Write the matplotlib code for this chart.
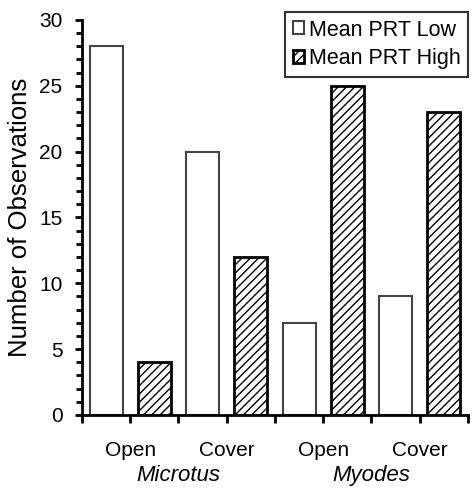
import numpy as np
import matplotlib.pyplot as plt
from matplotlib.ticker import MultipleLocator

plt.rcParams['font.family'] = ['Liberation Sans', 'DejaVu Sans']
plt.rcParams['hatch.linewidth'] = 1.0

# Dane
species = ['Microtus', 'Myodes']
habitats = ['Open', 'Cover', 'Open', 'Cover']
prt_low = [28, 20, 7, 9]
prt_high = [4, 12, 25, 23]

fig = plt.figure(figsize=(4.72, 4.91), dpi=100)
ax = fig.add_axes([0.1737, 0.1548, 0.8178, 0.8045])

pos = np.arange(len(habitats)) * 2
w = 0.68
ax.bar(pos, prt_low, width=w, color='white', edgecolor='#444444', linewidth=1.5,
       label='Mean PRT Low')
ax.bar(pos + 1, prt_high, width=w, color='white', edgecolor='black', linewidth=2,
       hatch='////', label='Mean PRT High')

# osie
ax.set_xlim(-0.5, 7.5)
ax.set_ylim(0, 30)
ticks = np.arange(-0.5, 8, 1)
labels = [''] * len(ticks)
labels[1::2] = habitats
ax.set_xticks(ticks)
ax.set_xticklabels(labels, fontsize=15)
ax.tick_params(axis='x', direction='out', length=6, width=2, pad=13)

ax.yaxis.set_major_locator(MultipleLocator(5))
ax.yaxis.set_minor_locator(MultipleLocator(1))
ax.tick_params(axis='y', which='major', direction='out', length=5, width=2, labelsize=15, pad=9)
ax.tick_params(axis='y', which='minor', direction='out', length=4, width=2)

for s in ['top', 'right']:
    ax.spines[s].set_visible(False)
for s in ['left', 'bottom']:
    ax.spines[s].set_linewidth(2)

ax.set_ylabel('Number of Observations', fontsize=18.5)
ax.yaxis.set_label_coords(-0.13, 0.5)

for i, sp in enumerate(species):
    ax.text(i * 4 + 1.5, -0.153, sp, transform=ax.get_xaxis_transform(),
            ha='center', va='center', fontsize=16, style='italic')

leg = ax.legend(loc='upper left', bbox_to_anchor=(0.604, 0.9756), bbox_transform=fig.transFigure,
                borderaxespad=0, fontsize=15.5, handlelength=0.55, handleheight=0.55,
                handletextpad=0.2, borderpad=0.35, labelspacing=0.35, fancybox=False)
leg.get_frame().set_edgecolor('black')
leg.get_frame().set_linewidth(1.5)

plt.savefig('out.png', dpi=100)
